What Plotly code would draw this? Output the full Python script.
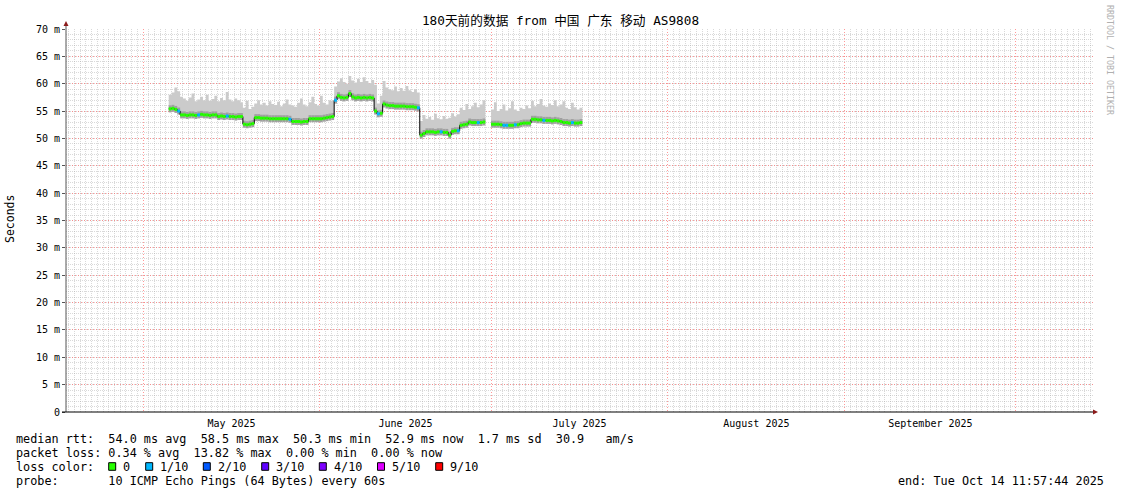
import pandas as pd
import plotly.graph_objects as go

# ---- data (one value per 12 h) ----
START = "2025-04-17 11:57:44"
END = "2025-10-14 11:57:44"
FIRST_SAMPLE = "2025-05-05 12:00"

median_ms = [
    55.4, 55.5, 55.3, 55.0, 54.3, 54.3, 54.2, 54.3, 54.3, 54.2,
    54.3, 54.4, 54.3, 54.3, 54.2, 54.3, 54.3, 54.0, 54.1, 54.0,
    54.1, 54.0, 54.0, 53.9, 54.0, 54.0, 52.6, 52.5, 52.6, 52.7,
    53.8, 53.8, 53.7, 53.7, 53.7, 53.6, 53.6, 53.6, 53.6, 53.6,
    53.6, 53.6, 53.5, 53.1, 53.1, 53.1, 53.0, 53.1, 53.1, 53.6,
    53.6, 53.6, 53.6, 53.6, 53.7, 53.8, 53.9, 54.0, 57.0, 57.8,
    57.5, 57.4, 57.5, 58.2, 57.6, 57.4, 57.5, 57.4, 57.5, 57.4,
    57.5, 57.4, 55.0, 54.5, 54.6, 56.3, 56.1, 56.0, 56.0, 55.9,
    55.9, 55.9, 55.9, 55.8, 55.8, 55.8, 55.7, 55.6, 50.6, 50.9,
    51.2, 51.2, 51.2, 51.1, 51.2, 51.2, 51.1, 51.1, 50.6, 51.3,
    51.4, 51.4, 52.4, 52.5, 52.6, 53.0, 52.9, 52.9, 52.9, 52.9,
    53.0, None, None, 52.6, 52.6, 52.6, 52.5, 52.4, 52.4, 52.4,
    52.4, 52.5, 52.5, 52.7, 52.8, 52.8, 52.8, 53.5, 53.5, 53.4,
    53.4, 53.3, 53.3, 53.3, 53.2, 53.3, 53.2, 53.1, 52.9, 52.9,
    52.8, 52.9, 52.8, 52.8, 52.9,
]

max_ms = [
    58.0, 58.4, 59.3, 58.6, 57.6, 57.3, 56.9, 57.5, 58.2, 56.8,
    57.1, 57.6, 57.0, 58.0, 56.9, 57.2, 57.8, 56.8, 57.4, 57.0,
    58.5, 57.1, 56.8, 57.3, 57.0, 56.6, 55.6, 56.9, 55.4, 55.8,
    56.4, 57.0, 56.2, 56.5, 56.0, 56.8, 56.3, 56.1, 56.7, 55.9,
    56.4, 57.1, 56.2, 56.0, 55.8, 56.5, 57.3, 56.2, 55.9, 56.6,
    57.6, 56.3, 56.0, 57.8, 56.5, 56.2, 57.0, 56.9, 59.5, 60.4,
    61.0, 60.3, 60.0, 61.4, 60.6, 60.2, 60.9, 60.3, 61.2, 60.5,
    60.1, 60.7, 59.8, 56.4, 57.8, 60.5, 59.3, 59.0, 58.8, 59.5,
    58.6, 59.2, 58.7, 59.6, 58.8, 58.5, 59.0, 58.4, 53.2, 54.3,
    53.6, 53.9, 53.4, 54.5, 53.7, 53.5, 54.1, 53.6, 53.8, 54.6,
    54.0, 54.4, 55.6, 55.2, 56.3, 55.4, 55.9, 56.5, 55.7, 56.2,
    57.0, None, None, 55.3, 56.6, 55.0, 55.4, 56.2, 55.1, 55.5,
    56.8, 55.3, 55.0, 55.6, 55.4, 56.0, 55.5, 56.9, 55.9, 56.3,
    57.2, 56.0, 55.8, 56.4, 56.1, 57.0, 55.9, 56.2, 56.8, 55.6,
    55.4, 56.5, 55.7, 55.3, 55.6,
]

# loss per sample, in tenths of the 10 pings
loss_tenths = [0] * len(median_ms)
for i in [3, 10, 20, 42, 58, 73, 87, 95, 101, 108, 117, 118, 121, 131, 141]:
    loss_tenths[i] = 1

loss_labels = ["0", "1/10", "2/10", "3/10", "4/10", "5/10", "9/10"]
loss_colors = ["#26ff00", "#00b8ff", "#0059ff", "#5e00ff", "#7e00ff", "#dd00ff", "#ff0000"]

y_ticks = [0, 5, 10, 15, 20, 25, 30, 35, 40, 45, 50, 55, 60, 65, 70]
y_tick_text = ["0"] + [f"{v} m" for v in y_ticks[1:]]

title = "180天前的数据 from 中国 广东 移动 AS9808"
stat_lines = [
    "median rtt:  54.0 ms avg  58.5 ms max  50.3 ms min  52.9 ms now  1.7 ms sd  30.9   am/s",
    "packet loss: 0.34 % avg  13.82 % max  0.00 % min  0.00 % now",
    "loss color:",
    "probe:       10 ICMP Echo Pings (64 Bytes) every 60s",
]
end_text = "end: Tue Oct 14 11:57:44 2025"

# ---- layout helpers (pixel -> paper) ----
W, H = 1121, 494
L, R, T, B = 66, 28, 29, 82
PW, PH = W - L - R, H - T - B
MONO = "DejaVu Sans Mono, Noto Sans CJK SC, monospace"


def px(x):
    return (x - L) / PW


def py(y):
    return (T + PH - y) / PH


def nb(s):
    return s.replace(" ", "\u00a0")


times = pd.date_range(FIRST_SAMPLE, periods=len(median_ms) + 1, freq="12h")

fig = go.Figure()

# smoke: one filled band per run of samples without a gap
runs, cur = [], []
for i, m in enumerate(median_ms):
    if m is None:
        if cur:
            runs.append(cur)
        cur = []
    else:
        cur.append(i)
if cur:
    runs.append(cur)

for run in runs:
    tx = [times[i] for i in run] + [times[run[-1] + 1]]
    base = [median_ms[i] for i in run] + [median_ms[run[-1]]]
    top = [max_ms[i] for i in run] + [max_ms[run[-1]]]
    fig.add_trace(go.Scatter(x=tx, y=base, mode="lines", line=dict(width=0, shape="hv"),
                             showlegend=False, hoverinfo="skip"))
    fig.add_trace(go.Scatter(x=tx, y=top, mode="lines", line=dict(width=0, shape="hv"),
                             fill="tonexty", fillcolor="#cbcbcb", showlegend=False, hoverinfo="skip"))


def segments(keep):
    xs, ys = [], []
    for i, m in enumerate(median_ms):
        if m is None or not keep(i):
            continue
        xs += [times[i], times[i + 1], None]
        ys += [m, m, None]
    return xs, ys


# darker strip under the median
sx, sy = segments(lambda i: True)
fig.add_trace(go.Scatter(x=sx, y=sy, mode="lines", line=dict(color="#a0a0a0", width=7),
                         showlegend=False, hoverinfo="skip"))
# black stepped median
fig.add_trace(go.Scatter(x=times[:-1], y=median_ms, mode="lines",
                         line=dict(color="black", width=1, shape="hv"), showlegend=False))
# loss coloured median
for lvl, col in enumerate(loss_colors):
    sx, sy = segments(lambda i, lvl=lvl: loss_tenths[i] == lvl)
    if sx:
        fig.add_trace(go.Scatter(x=sx, y=sy, mode="lines", line=dict(color=col, width=3),
                                 showlegend=False))

MAJOR = "rgba(255,110,110,0.7)"
MINOR = "rgba(160,160,160,0.4)"

fig.update_layout(
    width=W, height=H,
    margin=dict(l=L, r=R, t=T, b=B),
    paper_bgcolor="white", plot_bgcolor="white",
    font=dict(family=MONO, color="black", size=10),
    title=dict(text=title, x=0.5, xref="container", y=1 - 21 / H, yref="container",
               yanchor="middle", font=dict(family=MONO, size=12.7)),
    xaxis=dict(
        range=[START, END], type="date",
        dtick="M1", tick0="2025-05-01", tickformat="%B %Y", ticklabelmode="period",
        showgrid=True, gridcolor=MAJOR, griddash="1px,2px", gridwidth=1,
        ticks="outside", ticklen=2, tickcolor="rgba(0,0,0,0)",
        tickfont=dict(family=MONO, size=10),
        minor=dict(dtick=86400000, tick0="2025-04-18", showgrid=True, gridcolor=MINOR,
                   griddash="1px,1px", gridwidth=1),
        showline=False, zeroline=False,
    ),
    yaxis=dict(
        range=[0, 70], tickvals=y_ticks, ticktext=y_tick_text,
        showgrid=True, gridcolor=MAJOR, griddash="1px,2px", gridwidth=1,
        ticks="outside", ticklen=3, tickcolor="#555",
        tickfont=dict(family=MONO, size=10),
        minor=dict(dtick=1, showgrid=True, gridcolor=MINOR, griddash="1px,1px", gridwidth=1),
        showline=False, zeroline=False,
    ),
)

shapes = []
# axes with arrows
shapes.append(dict(type="line", xref="paper", yref="paper", x0=px(66), x1=px(66),
                   y0=py(412), y1=py(25), line=dict(color="#555", width=1)))
shapes.append(dict(type="line", xref="paper", yref="paper", x0=px(62), x1=px(1094),
                   y0=0, y1=0, line=dict(color="black", width=1)))
shapes.append(dict(type="path", xref="paper", yref="paper",
                   path=f"M {px(63.5)} {py(26)} L {px(68.5)} {py(26)} L {px(66)} {py(21)} Z",
                   fillcolor="#8b1a1a", line=dict(width=0)))
shapes.append(dict(type="path", xref="paper", yref="paper",
                   path=f"M {px(1093)} {py(409.5)} L {px(1093)} {py(414.5)} L {px(1098)} {py(412)} Z",
                   fillcolor="#8b1a1a", line=dict(width=0)))

annotations = []
line_y = [439.0, 453.0, 467.0, 481.0]
for s, yy in zip(stat_lines, line_y):
    annotations.append(dict(text=nb(s), xref="paper", yref="paper", x=px(14), y=py(yy),
                            xanchor="left", yanchor="middle", showarrow=False,
                            font=dict(family=MONO, size=11.8)))
annotations.append(dict(text=nb(end_text), xref="paper", yref="paper", x=px(1106), y=py(481),
                        xanchor="right", yanchor="middle", showarrow=False,
                        font=dict(family=MONO, size=11.8)))

# loss colour legend
box_x = [108.7, 145.7, 203.3, 261.7, 319.3, 377.5, 435.7]
for bx, lab, col in zip(box_x, loss_labels, loss_colors):
    shapes.append(dict(type="rect", xref="paper", yref="paper",
                       x0=px(bx), x1=px(bx + 7), y0=py(470.3), y1=py(462.7),
                       fillcolor=col, line=dict(color="black", width=1)))
    annotations.append(dict(text=lab, xref="paper", yref="paper", x=px(bx + 12.5), y=py(467),
                            xanchor="left", yanchor="middle", showarrow=False,
                            font=dict(family=MONO, size=11.8)))

annotations.append(dict(text="Seconds", xref="paper", yref="paper", x=px(10), y=py(219),
                        textangle=-90, xanchor="center", yanchor="middle", showarrow=False,
                        font=dict(family=MONO, size=11.5)))
annotations.append(dict(text=nb("RRDTOOL / TOBI OETIKER"), xref="paper", yref="paper",
                        x=px(1110), y=py(60), textangle=90, xanchor="center", yanchor="middle",
                        showarrow=False, font=dict(family=MONO, size=8.3, color="#b0b0b0")))

fig.update_layout(shapes=shapes, annotations=annotations)

# the page is photographed at exactly the figure size, so drop the body margin
fig.write_html("out.html", config={"displayModeBar": False},
               post_script="document.body.style.margin='0';")
